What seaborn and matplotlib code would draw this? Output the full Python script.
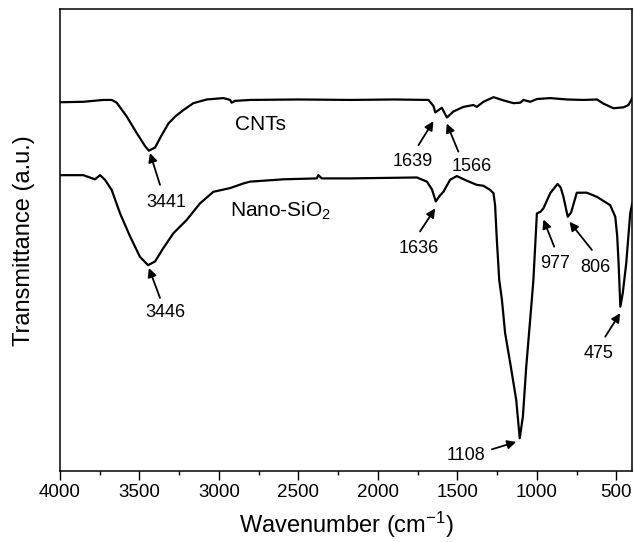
import pandas as pd
import seaborn as sns
import matplotlib.pyplot as plt

# FTIR spectra (wavenumber in cm-1, transmittance in a.u.)
cnt_wn = [4000, 3853, 3727, 3675, 3643, 3580, 3517, 3465, 3441, 3402, 3360, 3318,
          3276, 3224, 3161, 3077, 2972, 2930, 2920, 2899, 2804, 2500, 2175, 1900,
          1682, 1651, 1639, 1598, 1566, 1525, 1462, 1399, 1378, 1336, 1273, 1210,
          1147, 1105, 1084, 1042, 1000, 916, 811, 707, 622, 581, 518, 455, 424, 400]
cnt_t = [79.9, 80.0, 80.4, 80.4, 79.8, 76.8, 73.2, 70.4, 69.4, 70.1, 72.8, 75.3,
         76.8, 78.2, 79.7, 80.5, 80.8, 80.4, 79.8, 80.2, 80.4, 80.5, 80.4, 80.5,
         80.4, 79.1, 77.7, 78.7, 76.6, 77.9, 78.9, 79.3, 78.9, 80.0, 81.0, 80.3,
         79.7, 79.8, 80.4, 80.0, 80.6, 80.8, 80.5, 80.4, 80.5, 79.6, 78.6, 78.8, 79.3, 80.8]

sio2_wn = [4000, 3853, 3780, 3748, 3717, 3675, 3622, 3559, 3497, 3446, 3402, 3350,
           3287, 3203, 3119, 3035, 2930, 2847, 2804, 2595, 2385, 2375, 2353, 2175,
           1755, 1692, 1660, 1636, 1612, 1588, 1546, 1504, 1441, 1378, 1336, 1294,
           1273, 1263, 1252, 1237, 1220, 1200, 1164, 1130, 1108, 1088, 1067, 1032,
           1022, 1011, 1000, 977, 959, 916, 870, 850, 833, 806, 785, 774, 749, 686,
           622, 539, 507, 495, 486, 475, 460, 438, 413, 400]
sio2_t = [64.1, 64.1, 63.2, 64.1, 63.1, 60.9, 55.8, 50.8, 46.4, 44.6, 45.4, 48.3,
          51.5, 54.4, 58.0, 60.5, 61.3, 62.3, 62.7, 63.2, 63.4, 64.1, 63.4, 63.4,
          63.6, 62.7, 61.0, 58.4, 59.6, 60.5, 63.1, 63.9, 62.9, 62.0, 61.8, 60.9,
          60.2, 57.6, 50.1, 41.4, 37.1, 29.9, 22.6, 15.4, 7.1, 11.8, 22.6, 37.1,
          41.4, 48.6, 55.8, 56.2, 56.9, 60.2, 62.2, 61.4, 59.4, 55.1, 56.0, 57.3,
          60.3, 60.3, 59.4, 57.6, 55.1, 51.0, 45.0, 35.6, 38.5, 45.0, 55.8, 58.0]

peak_labels = ["3441", "1639", "1566", "3446", "1636", "1108", "977", "806", "475"]
peak_tips = [(3434, 68.9), (1651, 75.8), (1567, 75.3), (3441, 44.0), (1640, 56.9),
             (1130, 6.3), (959, 54.5), (795, 54.0), (476, 34.2)]
arrow_tails = [(3371, 62.0), (1745, 70.6), (1494, 69.2), (3371, 37.5), (1735, 51.9),
               (1283, 4.7), (891, 48.6), (654, 47.9), (570, 29.1)]
text_pos = [(3331, 57.1), (1784, 66.1), (1407, 65.0), (3337, 33.4), (1741, 47.3),
            (1443, 2.4), (883, 43.9), (629, 43.2), (610, 24.4)]

df_cnt = pd.DataFrame({"wn": cnt_wn, "t": cnt_t})
df_sio2 = pd.DataFrame({"wn": sio2_wn, "t": sio2_t})

sns.set_style("ticks", {"axes.edgecolor": "black", "xtick.color": "black",
                        "text.color": "black", "axes.labelcolor": "black"})
plt.rcParams["font.family"] = ["Liberation Sans", "DejaVu Sans"]
plt.rcParams["mathtext.fontset"] = "custom"
plt.rcParams["mathtext.rm"] = "Liberation Sans"
plt.rcParams["mathtext.it"] = "Liberation Sans:italic"

fig = plt.figure(figsize=(6.35, 5.42), dpi=100)
ax = fig.add_axes([0.0945, 0.131, 0.9012, 0.8515])

for df in (df_cnt, df_sio2):
    sns.lineplot(data=df, x="wn", y="t", color="black", lw=1.6, sort=False, ax=ax,
                 solid_joinstyle="round")

for lab, tip, tail, pos in zip(peak_labels, peak_tips, arrow_tails, text_pos):
    ax.annotate("", xy=tip, xytext=tail,
                arrowprops=dict(arrowstyle="-|>", color="black", lw=1.3,
                                mutation_scale=13, shrinkA=0, shrinkB=0))
    ax.text(pos[0], pos[1], lab, ha="center", va="baseline", fontsize=13)

ax.text(2899, 73.9, "CNTs", ha="left", va="baseline", fontsize=15)
ax.text(2930, 55.1, "Nano-SiO$_\\mathrm{2}$", ha="left", va="baseline", fontsize=15)

ax.set_xlim(4000, 400)
ax.set_ylim(0, 100)
ax.set_xticks([4000, 3500, 3000, 2500, 2000, 1500, 1000, 500])
ax.set_xticks([3750, 3250, 2750, 2250, 1750, 1250, 750], minor=True)
ax.set_yticks([])
ax.tick_params(axis="x", which="major", length=6.5, width=1, pad=3, labelsize=13.5,
               color="black", labelcolor="black")
ax.tick_params(axis="x", which="minor", length=3, width=1, color="black")
for sp in ax.spines.values():
    sp.set_linewidth(1.1)
    sp.set_color("black")

ax.set_xlabel("Wavenumber (cm$^\\mathrm{-1}$)", fontsize=17, labelpad=6)
ax.set_ylabel("Transmittance (a.u.)", fontsize=17, labelpad=18)

plt.savefig("out.png", dpi=100)
plt.close()
